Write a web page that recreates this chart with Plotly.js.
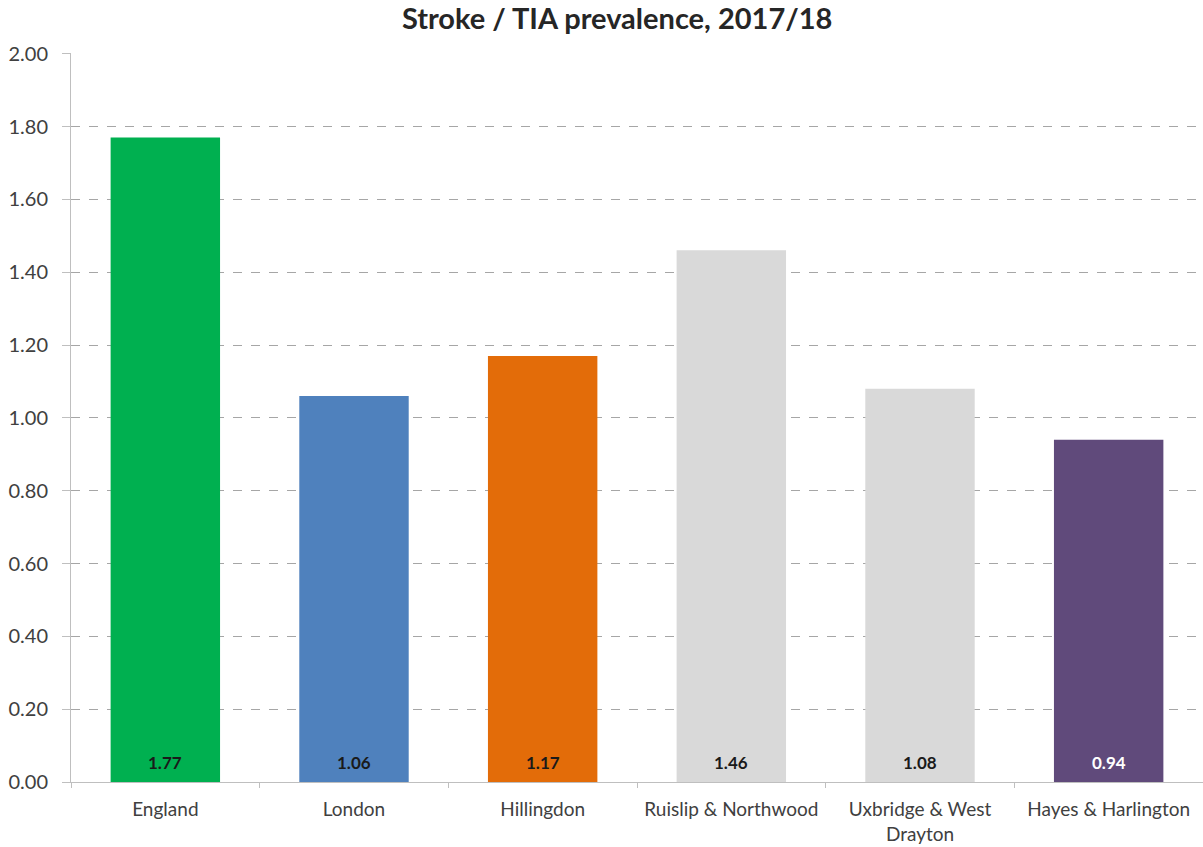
<!DOCTYPE html>
<html><head><meta charset="utf-8">
<script src="https://cdn.plot.ly/plotly-3.0.1.min.js"></script>
<style>body{margin:0;background:#fff}#c{width:1203px;height:847px}</style>
</head><body><div id="c"></div>
<script>
const categories = ["England", "London", "Hillingdon", "Ruislip & Northwood", "Uxbridge & West<br>Drayton", "Hayes & Harlington"];
const values = [1.77, 1.06, 1.17, 1.46, 1.08, 0.94];
const barColors = ["#00B050", "#4F81BD", "#E36C09", "#D9D9D9", "#D9D9D9", "#604A7B"];
const labelColors = ["#1a1a1a", "#1a1a1a", "#1a1a1a", "#1a1a1a", "#1a1a1a", "#ffffff"];
const yTicks = [0, 0.2, 0.4, 0.6, 0.8, 1.0, 1.2, 1.4, 1.6, 1.8, 2.0];

const FONT = "Lato, 'Open Sans', sans-serif";

const trace = {
  type: "bar",
  x: categories,
  y: values,
  marker: {color: barColors},
  hoverinfo: "none"
};

const annotations = categories.map((c, i) => ({
  x: c, y: 0, xref: "x", yref: "y",
  text: "<b>" + values[i].toFixed(2) + "</b>",
  showarrow: false, yanchor: "middle", yshift: 20,
  font: {family: FONT, size: 17, color: labelColors[i]}
}));

const layout = {
  width: 1203, height: 847,
  margin: {l: 71, r: 0, t: 53, b: 65},
  paper_bgcolor: "#fff", plot_bgcolor: "#fff",
  showlegend: false,
  bargap: 0.42,
  annotations: annotations,
  title: {text: "<b>Stroke / TIA prevalence, 2017/18</b>", x: 0.513, xanchor: "center", y: 0.978, yanchor: "middle",
          font: {family: FONT, size: 29, color: "#262626"}},
  font: {family: FONT, color: "#404040"},
  xaxis: {
    type: "category",
    tickson: "boundaries", ticks: "outside", ticklen: 5, tickcolor: "#bfbfbf",
    showline: true, linecolor: "#bfbfbf", linewidth: 1,
    showgrid: false, zeroline: false,
    ticklabelstandoff: 10,
    tickfont: {size: 19, color: "#404040"}
  },
  yaxis: {
    range: [0, 2.002], tickvals: yTicks, ticktext: yTicks.map(v => v.toFixed(2)),
    ticks: "outside", ticklen: 8, tickcolor: "#bfbfbf",
    showline: true, linecolor: "#bfbfbf", linewidth: 1,
    showgrid: true, gridcolor: "#a6a6a6", griddash: "dash", gridwidth: 1,
    zeroline: false,
    ticklabelstandoff: 10,
    tickfont: {size: 20, color: "#404040"}
  }
};

Plotly.newPlot("c", [trace], layout, {displayModeBar: false, staticPlot: true});
</script></body></html>
